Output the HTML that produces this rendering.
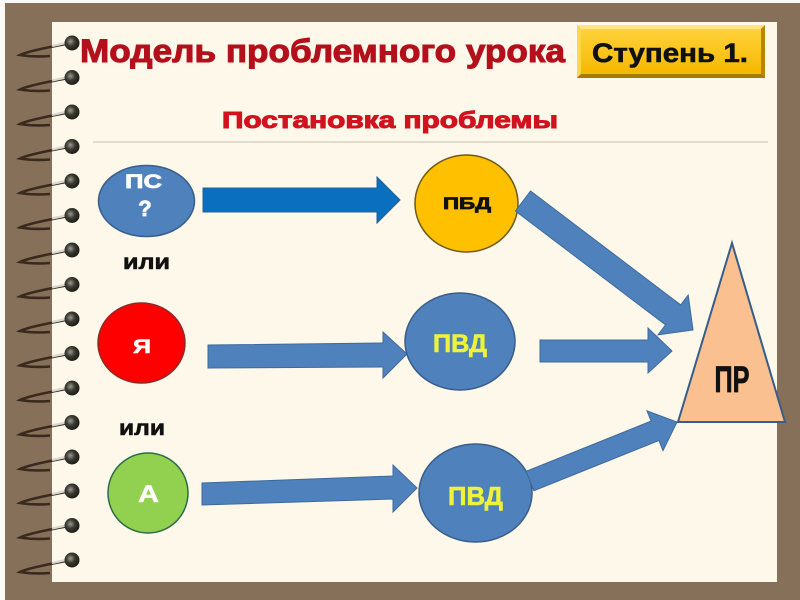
<!DOCTYPE html>
<html>
<head>
<meta charset="utf-8">
<style>
  html, body { margin: 0; padding: 0; background: #ffffff; }
  svg { display: block; }
  text { font-family: "Liberation Sans", "DejaVu Sans", sans-serif; font-weight: bold; }
</style>
</head>
<body>
<svg width="800" height="600" viewBox="0 0 800 600" xmlns="http://www.w3.org/2000/svg">
  <defs>
    <radialGradient id="dot" cx="0.4" cy="0.4" r="0.6">
      <stop offset="0" stop-color="#9a9a90"/>
      <stop offset="0.5" stop-color="#3a3a32"/>
      <stop offset="1" stop-color="#1e1e18"/>
    </radialGradient>
    <linearGradient id="gold" x1="0" y1="0" x2="0" y2="1">
      <stop offset="0" stop-color="#ffd23a"/>
      <stop offset="1" stop-color="#f6b800"/>
    </linearGradient>
  </defs>

  <!-- frame -->
  <rect x="0" y="0" width="800" height="600" fill="#fbfaf6"/>
  <rect x="5" y="3" width="795" height="597" fill="#87705a"/>
  <rect x="52" y="22" width="725" height="560" fill="#fdf8e9"/>

  <!-- spiral rings -->
  <g id="rings">
    <g transform="translate(0,43)"><path d="M50 13 C38 14 26 13 20 12 C26 9 44 5 66 1" fill="none" stroke="#3a2a1e" stroke-width="2.6"/><path d="M52 3 L66 0" stroke="#d8d8d0" stroke-width="2.2"/><circle cx="72" cy="0" r="7.5" fill="url(#dot)"/></g>
    <g transform="translate(0,77.5)"><path d="M50 13 C38 14 26 13 20 12 C26 9 44 5 66 1" fill="none" stroke="#3a2a1e" stroke-width="2.6"/><path d="M52 3 L66 0" stroke="#d8d8d0" stroke-width="2.2"/><circle cx="72" cy="0" r="7.5" fill="url(#dot)"/></g>
    <g transform="translate(0,112)"><path d="M50 13 C38 14 26 13 20 12 C26 9 44 5 66 1" fill="none" stroke="#3a2a1e" stroke-width="2.6"/><path d="M52 3 L66 0" stroke="#d8d8d0" stroke-width="2.2"/><circle cx="72" cy="0" r="7.5" fill="url(#dot)"/></g>
    <g transform="translate(0,146.5)"><path d="M50 13 C38 14 26 13 20 12 C26 9 44 5 66 1" fill="none" stroke="#3a2a1e" stroke-width="2.6"/><path d="M52 3 L66 0" stroke="#d8d8d0" stroke-width="2.2"/><circle cx="72" cy="0" r="7.5" fill="url(#dot)"/></g>
    <g transform="translate(0,181)"><path d="M50 13 C38 14 26 13 20 12 C26 9 44 5 66 1" fill="none" stroke="#3a2a1e" stroke-width="2.6"/><path d="M52 3 L66 0" stroke="#d8d8d0" stroke-width="2.2"/><circle cx="72" cy="0" r="7.5" fill="url(#dot)"/></g>
    <g transform="translate(0,215.5)"><path d="M50 13 C38 14 26 13 20 12 C26 9 44 5 66 1" fill="none" stroke="#3a2a1e" stroke-width="2.6"/><path d="M52 3 L66 0" stroke="#d8d8d0" stroke-width="2.2"/><circle cx="72" cy="0" r="7.5" fill="url(#dot)"/></g>
    <g transform="translate(0,250)"><path d="M50 13 C38 14 26 13 20 12 C26 9 44 5 66 1" fill="none" stroke="#3a2a1e" stroke-width="2.6"/><path d="M52 3 L66 0" stroke="#d8d8d0" stroke-width="2.2"/><circle cx="72" cy="0" r="7.5" fill="url(#dot)"/></g>
    <g transform="translate(0,284.5)"><path d="M50 13 C38 14 26 13 20 12 C26 9 44 5 66 1" fill="none" stroke="#3a2a1e" stroke-width="2.6"/><path d="M52 3 L66 0" stroke="#d8d8d0" stroke-width="2.2"/><circle cx="72" cy="0" r="7.5" fill="url(#dot)"/></g>
    <g transform="translate(0,319)"><path d="M50 13 C38 14 26 13 20 12 C26 9 44 5 66 1" fill="none" stroke="#3a2a1e" stroke-width="2.6"/><path d="M52 3 L66 0" stroke="#d8d8d0" stroke-width="2.2"/><circle cx="72" cy="0" r="7.5" fill="url(#dot)"/></g>
    <g transform="translate(0,353.5)"><path d="M50 13 C38 14 26 13 20 12 C26 9 44 5 66 1" fill="none" stroke="#3a2a1e" stroke-width="2.6"/><path d="M52 3 L66 0" stroke="#d8d8d0" stroke-width="2.2"/><circle cx="72" cy="0" r="7.5" fill="url(#dot)"/></g>
    <g transform="translate(0,388)"><path d="M50 13 C38 14 26 13 20 12 C26 9 44 5 66 1" fill="none" stroke="#3a2a1e" stroke-width="2.6"/><path d="M52 3 L66 0" stroke="#d8d8d0" stroke-width="2.2"/><circle cx="72" cy="0" r="7.5" fill="url(#dot)"/></g>
    <g transform="translate(0,422.5)"><path d="M50 13 C38 14 26 13 20 12 C26 9 44 5 66 1" fill="none" stroke="#3a2a1e" stroke-width="2.6"/><path d="M52 3 L66 0" stroke="#d8d8d0" stroke-width="2.2"/><circle cx="72" cy="0" r="7.5" fill="url(#dot)"/></g>
    <g transform="translate(0,457)"><path d="M50 13 C38 14 26 13 20 12 C26 9 44 5 66 1" fill="none" stroke="#3a2a1e" stroke-width="2.6"/><path d="M52 3 L66 0" stroke="#d8d8d0" stroke-width="2.2"/><circle cx="72" cy="0" r="7.5" fill="url(#dot)"/></g>
    <g transform="translate(0,491)"><path d="M50 13 C38 14 26 13 20 12 C26 9 44 5 66 1" fill="none" stroke="#3a2a1e" stroke-width="2.6"/><path d="M52 3 L66 0" stroke="#d8d8d0" stroke-width="2.2"/><circle cx="72" cy="0" r="7.5" fill="url(#dot)"/></g>
    <g transform="translate(0,525.5)"><path d="M50 13 C38 14 26 13 20 12 C26 9 44 5 66 1" fill="none" stroke="#3a2a1e" stroke-width="2.6"/><path d="M52 3 L66 0" stroke="#d8d8d0" stroke-width="2.2"/><circle cx="72" cy="0" r="7.5" fill="url(#dot)"/></g>
    <g transform="translate(0,560)"><path d="M50 13 C38 14 26 13 20 12 C26 9 44 5 66 1" fill="none" stroke="#3a2a1e" stroke-width="2.6"/><path d="M52 3 L66 0" stroke="#d8d8d0" stroke-width="2.2"/><circle cx="72" cy="0" r="7.5" fill="url(#dot)"/></g>
  </g>

  <!-- title -->
  <text x="80" y="62" font-size="32" fill="#b3101c" stroke="#b3101c" stroke-width="1" textLength="485" lengthAdjust="spacingAndGlyphs">Модель проблемного урока</text>

  <!-- Ступень box -->
  <rect x="577" y="25" width="188" height="53" fill="#c99400"/>
  <polygon points="577,25 765,25 761,29 581,29" fill="#ffe680"/>
  <polygon points="577,25 581,29 581,74 577,78" fill="#ffd84a"/>
  <polygon points="765,25 765,78 761,74 761,29" fill="#b98600"/>
  <polygon points="577,78 765,78 761,74 581,74" fill="#a87a00"/>
  <rect x="581" y="29" width="180" height="45" fill="url(#gold)"/>
  <text x="592" y="62" font-size="27" fill="#111" stroke="#111" stroke-width="0.6" textLength="156" lengthAdjust="spacingAndGlyphs">Ступень 1.</text>

  <!-- subtitle -->
  <text x="222" y="128" font-size="23" fill="#d0131f" stroke="#d0131f" stroke-width="1" textLength="336" lengthAdjust="spacingAndGlyphs">Постановка проблемы</text>

  <!-- divider -->
  <line x1="93" y1="142" x2="768" y2="142" stroke="#d8d2c4" stroke-width="1.5"/>

  <!-- left ellipses -->
  <ellipse cx="146.5" cy="201" rx="48" ry="35.5" fill="#4f81bd" stroke="#385d8a" stroke-width="1.5"/>
  <text x="143.5" y="188" font-size="19" fill="#fff" stroke="#fff" stroke-width="0.7" text-anchor="middle" textLength="37" lengthAdjust="spacingAndGlyphs">ПС</text>
  <text x="145" y="216" font-size="22" fill="#fff" stroke="#fff" stroke-width="0.8" text-anchor="middle">?</text>

  <text x="123" y="269" font-size="21" fill="#111" stroke="#111" stroke-width="0.6" textLength="47" lengthAdjust="spacingAndGlyphs">или</text>

  <ellipse cx="141.5" cy="343" rx="43.5" ry="40" fill="#ff0000" stroke="#8e2a2a" stroke-width="1.5"/>
  <text x="142" y="353" font-size="19" fill="#fff" stroke="#fff" stroke-width="0.6" text-anchor="middle" textLength="18" lengthAdjust="spacingAndGlyphs">Я</text>

  <text x="119" y="435" font-size="21" fill="#111" stroke="#111" stroke-width="0.6" textLength="46" lengthAdjust="spacingAndGlyphs">или</text>

  <ellipse cx="148" cy="493" rx="40" ry="40" fill="#92d050" stroke="#2f6b4a" stroke-width="1.5"/>
  <text x="148.5" y="502" font-size="24" fill="#fff" stroke="#fff" stroke-width="0.5" text-anchor="middle" textLength="21" lengthAdjust="spacingAndGlyphs">А</text>

  <!-- horizontal arrows -->
  <polygon points="203,188 377,188 377,177 400,200 377,223 377,212 203,212" fill="#0a6fbe" stroke="#25609a" stroke-width="1"/>
  <polygon points="208,345 383,343 383,332 407,354 383,378 383,367 208,368" fill="#4f81bd" stroke="#3d6a9c" stroke-width="1"/>
  <polygon points="540,340 648,340 648,328 672,351 648,373 648,362 540,362" fill="#4f81bd" stroke="#3d6a9c" stroke-width="1"/>
  <polygon points="202,483 393,476 393,465 417,488 393,512 393,499 202,505" fill="#4f81bd" stroke="#3d6a9c" stroke-width="1"/>

  <!-- middle ellipses -->
  <ellipse cx="466.5" cy="203.5" rx="51.5" ry="48.5" fill="#ffc000" stroke="#6e5a1a" stroke-width="1.5"/>
  <text x="467" y="209" font-size="17" fill="#111" stroke="#111" stroke-width="0.8" text-anchor="middle" textLength="48" lengthAdjust="spacingAndGlyphs">ПБД</text>

  <ellipse cx="460" cy="341.5" rx="55" ry="48.5" fill="#4f81bd" stroke="#385d8a" stroke-width="1.5"/>
  <text x="460" y="352" font-size="25" fill="#eef23a" stroke="#eef23a" stroke-width="0.6" text-anchor="middle" textLength="54" lengthAdjust="spacingAndGlyphs">ПВД</text>

  <ellipse cx="475.5" cy="493" rx="56.5" ry="49" fill="#4f81bd" stroke="#385d8a" stroke-width="1.5"/>
  <text x="475.5" y="505" font-size="26" fill="#eef23a" stroke="#eef23a" stroke-width="0.6" text-anchor="middle" textLength="55" lengthAdjust="spacingAndGlyphs">ПВД</text>

  <!-- diagonal arrows -->
  <polygon points="530.6,191 680.7,304.9 688.2,295 693,330 658,334.8 665.5,324.9 515.4,211" fill="#4f81bd" stroke="#3d6a9c" stroke-width="1"/>
  <polygon points="526.1,471.3 651.1,421.1 647,410.9 677,422 663,450.7 658.9,440.5 533.9,490.7" fill="#4f81bd" stroke="#3d6a9c" stroke-width="1"/>

  <!-- triangle -->
  <polygon points="732,243 678,422 785,422" fill="#fac090" stroke="#385d8a" stroke-width="2"/>
  <text x="732" y="392" font-size="37" fill="#111" stroke="#111" stroke-width="0.8" text-anchor="middle" textLength="35" lengthAdjust="spacingAndGlyphs">ПР</text>
</svg>
</body>
</html>
